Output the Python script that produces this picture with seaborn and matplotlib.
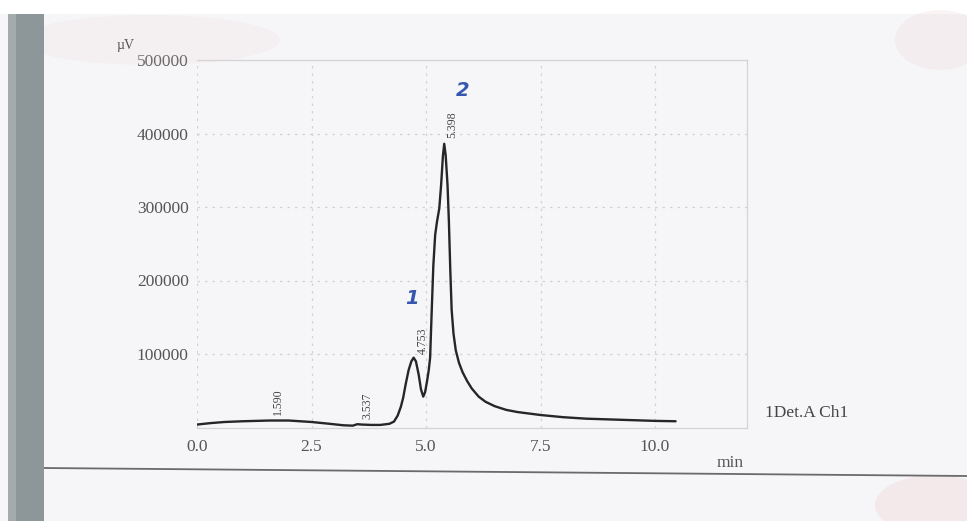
import numpy as np
import pandas as pd
import matplotlib
matplotlib.use("Agg")
import matplotlib.pyplot as plt
import seaborn as sns
from matplotlib.patches import Rectangle, Ellipse
from matplotlib.lines import Line2D

# ---- data ----
time_min = [0.00, 0.30, 0.60, 1.00, 1.59, 2.00, 2.50, 2.90, 3.20, 3.40, 3.50, 3.60,
            3.80, 4.00, 4.20, 4.30, 4.38, 4.45, 4.50, 4.56, 4.62, 4.68, 4.73, 4.78,
            4.84, 4.89, 4.94, 4.98, 5.02, 5.06, 5.09, 5.12, 5.16, 5.20, 5.24, 5.29,
            5.33, 5.37, 5.398, 5.43, 5.47, 5.50, 5.53, 5.56, 5.60, 5.65, 5.72, 5.80,
            5.90, 6.00, 6.15, 6.30, 6.50, 6.75, 7.00, 7.50, 8.00, 8.50, 9.00, 9.50,
            10.00, 10.45]
signal_uv = [4000, 6000, 7500, 8500, 9500, 9500, 7500, 5000, 3000, 2500, 4500, 4000,
             3500, 3500, 5000, 8000, 16000, 28000, 40000, 60000, 78000, 90000, 95000, 90000,
             72000, 52000, 42000, 48000, 62000, 78000, 95000, 150000, 220000, 262000, 280000, 298000,
             330000, 370000, 386000, 370000, 330000, 280000, 215000, 160000, 128000, 105000, 88000, 75000,
             63000, 53000, 42000, 35000, 29000, 24000, 21000, 17000, 14000, 12000, 11000, 10000,
             9000, 8500]
peak_times = [1.590, 3.537, 4.753, 5.398]
peak_labels = ["1.590", "3.537", "4.753", "5.398"]
x_ticks = [0.0, 2.5, 5.0, 7.5, 10.0]
x_ticklabels = ["0.0", "2.5", "5.0", "7.5", "10.0"]
y_ticks = [100000, 200000, 300000, 400000, 500000]
y_ticklabels = ["100000", "200000", "300000", "400000", "500000"]
hand_marks = ["1", "2"]
hand_pos_t = [4.69, 5.79]
hand_pos_v = [176000, 459000]

df = pd.DataFrame({"t": time_min, "v": signal_uv})

sns.set_theme(style="white")
plt.rcParams["font.family"] = ["Liberation Serif", "DejaVu Serif"]

W, H = 967, 521
fig = plt.figure(figsize=(W / 100, H / 100), dpi=100)
fig.patch.set_facecolor("#f6f6f8")

# scanned-page decorations
fig.patches.append(Rectangle((0, 1 - 14 / H), 1, 14 / H, transform=fig.transFigure,
                             facecolor="white", edgecolor="none", zorder=0))
fig.patches.append(Ellipse((150 / W, 1 - 40 / H), 260 / W, 50 / H, transform=fig.transFigure,
                           facecolor="#f0d6d6", edgecolor="none", alpha=0.18, zorder=0))
fig.patches.append(Ellipse((940 / W, 1 - 40 / H), 90 / W, 60 / H, transform=fig.transFigure,
                           facecolor="#f0d0d0", edgecolor="none", alpha=0.22, zorder=0))
fig.patches.append(Ellipse((935 / W, 1 - 505 / H), 120 / W, 60 / H, transform=fig.transFigure,
                           facecolor="#efcccc", edgecolor="none", alpha=0.3, zorder=0))
fig.patches.append(Rectangle((8 / W, 0), 36 / W, (H - 14) / H, transform=fig.transFigure,
                             facecolor="#8d9699", edgecolor="none", zorder=1))
fig.patches.append(Rectangle((8 / W, 0), 8 / W, (H - 14) / H, transform=fig.transFigure,
                             facecolor="#a3abad", edgecolor="none", zorder=1))
fig.lines.append(Line2D([44 / W, 1], [1 - 468 / H, 1 - 476 / H], transform=fig.transFigure,
                        color="#6a6a6a", linewidth=1.3, zorder=1))

x0, x1 = 197, 746.6
y_bot, y_top = 427.5, 60
ax = fig.add_axes([x0 / W, 1 - y_bot / H, (x1 - x0) / W, (y_bot - y_top) / H])
ax.set_facecolor("none")

sns.lineplot(data=df, x="t", y="v", ax=ax, color="#262626", linewidth=1.7)

ax.set_xlim(0, 12)
ax.set_ylim(0, 500000)
ax.set_xticks(x_ticks)
ax.set_xticklabels(x_ticklabels)
ax.set_yticks(y_ticks)
ax.set_yticklabels(y_ticklabels)
ax.tick_params(axis="both", length=0, labelsize=12.5, labelcolor="#555555")
ax.tick_params(axis="x", pad=8)
ax.tick_params(axis="y", pad=6)
ax.set_xlabel("")
ax.set_ylabel("")
ax.grid(True, linestyle=(0, (2, 4)), color="#d2d2d2", linewidth=0.9)
for s in ["top", "right", "bottom"]:
    ax.spines[s].set_visible(True)
    ax.spines[s].set_color("#d4d4d4")
    ax.spines[s].set_linewidth(0.9)
ax.spines["left"].set_visible(False)

# peak labels
for pt, lab in zip(peak_times, peak_labels):
    pv = np.interp(pt, time_min, signal_uv)
    ax.annotate(lab, xy=(pt, pv), xytext=(6, 4), textcoords="offset points",
                rotation=90, ha="center", va="bottom", fontsize=8.5, color="#444444")

# hand-written peak numbers
for m, ht, hv in zip(hand_marks, hand_pos_t, hand_pos_v):
    ax.text(ht, hv, m, color="#3557b0", fontsize=14, fontstyle="italic",
            fontweight="bold", ha="center", va="center", family=["DejaVu Sans"])

fig.text(730 / W, 1 - 463 / H, "min", ha="center", va="center", fontsize=12.5, color="#555555")
fig.text(765 / W, 1 - 413 / H, "1Det.A Ch1", ha="left", va="center", fontsize=12.5, color="#444444")
fig.text(126 / W, 1 - 46 / H, "µV", ha="center", va="center", fontsize=10, color="#555555")

fig.savefig("out.png", dpi=100, facecolor=fig.get_facecolor())
